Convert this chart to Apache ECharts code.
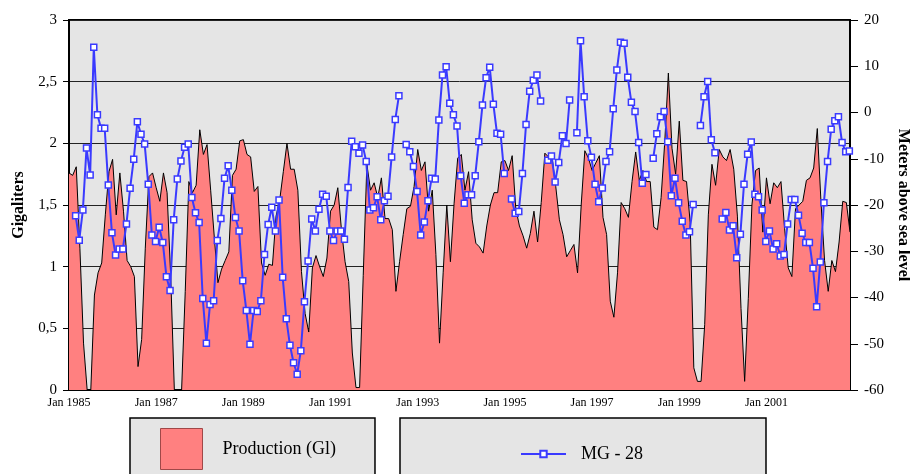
<!DOCTYPE html>
<html>
<head>
<meta charset="utf-8">
<script src="https://cdn.jsdelivr.net/npm/echarts@6/dist/echarts.min.js"></script>
<style>html,body{margin:0;padding:0;background:#fff;}#c{width:910px;height:474px;}</style>
</head>
<body>
<div id="c"></div>
<script>
// Monthly production (Gigaliters), Jan 1985 .. Dec 2002 (month index 0..215)
const startYear = 1985;
const production = [
1.76,1.74,1.81,1.15,0.38,0,0,0.77,0.95,1.03,1.42,1.77,
1.87,1.42,1.76,1.45,1.05,1.0,0.92,0.19,0.41,1.15,1.73,1.76,
1.64,1.53,1.76,1.6,0.92,0,0,0,0.8,1.69,1.6,1.66,
2.11,1.91,1.99,1.62,1.24,0.87,0.98,1.05,1.12,1.74,1.79,2.02,
2.03,1.91,1.89,1.61,1.65,1.03,0.93,1.02,1.01,1.41,1.54,1.77,
2.0,1.79,1.79,1.62,0.96,0.62,0.47,0.99,1.09,1.0,0.92,1.07,
1.45,1.5,1.64,1.3,1.04,0.88,0.3,0.02,0.02,0.93,1.83,1.62,
1.68,1.56,1.72,1.39,1.39,1.3,0.8,1.04,1.26,1.47,1.49,1.65,
1.95,1.78,1.85,1.45,1.62,1.1,0.38,0.95,1.5,1.04,1.51,1.88,
1.91,1.62,1.77,1.38,1.19,1.16,1.11,1.33,1.5,1.6,1.6,1.85,
1.86,1.78,1.9,1.47,1.33,1.25,1.15,1.27,1.45,1.2,1.52,1.92,
1.89,1.88,1.65,1.38,1.26,1.08,1.13,1.18,0.95,1.5,1.94,1.88,
1.78,1.84,1.9,1.4,1.26,0.72,0.59,0.95,1.52,1.47,1.4,1.69,
1.93,1.7,1.78,1.69,1.69,1.32,1.3,1.56,2.01,2.57,1.96,1.75,
2.18,1.7,1.69,1.36,0.18,0.07,0.07,0.53,1.42,1.83,1.66,1.95,
1.89,1.86,1.95,1.79,1.41,0.66,0.07,0.74,1.5,1.78,1.8,1.28,
1.72,1.51,1.68,1.64,1.69,1.31,0.99,0.92,1.47,1.5,1.53,1.7,
1.72,1.8,2.12,1.53,1.05,0.8,1.05,0.96,1.2,1.53,1.52,1.28
];
// MG-28 level (meters above sea level), one reading per month, taken late in the month
const mgDayFraction = 0.82;
const mg28 = [
null,-22.3,-27.6,-21.1,-7.7,-13.5,14.1,-0.5,-3.4,-3.4,-15.7,-26.0,
-30.8,-29.5,-29.5,-24.1,-16.4,-10.1,-2.0,-4.7,-6.8,-15.5,-26.5,-27.9,
-24.8,-28.1,-35.5,-38.5,-23.2,-14.4,-10.5,-7.5,-6.8,-18.4,-21.7,-23.8,
-40.2,-49.9,-41.5,-40.7,-27.7,-22.9,-14.2,-11.5,-16.8,-22.7,-25.6,-36.4,
-42.8,-50.1,-42.8,-43.0,-40.7,-30.7,-24.2,-20.5,-25.6,-18.9,-35.6,-44.6,
-50.3,-54.1,-56.6,-51.5,-40.9,-32.1,-23.0,-25.6,-20.9,-17.7,-18.1,-25.6,
-27.7,-25.6,-25.6,-27.4,-16.2,-6.2,-7.4,-8.8,-7.0,-10.6,-21.1,-20.6,
-18.2,-23.2,-19.1,-18.1,-9.6,-1.5,3.6,null,-6.9,-8.5,-11.7,-17.1,
-26.5,-23.7,-19.1,-14.2,-14.4,-1.6,8.1,9.9,2.0,-0.5,-2.9,-13.7,
-19.6,-17.8,-17.8,-13.7,-6.3,1.6,7.5,9.8,1.8,-4.5,-4.7,-13.2,
null,-18.7,-21.8,-21.4,-13.2,-2.6,4.6,7.0,8.1,2.5,null,-10.3,
-9.4,-15.0,-10.8,-5.0,-6.7,2.7,null,-4.4,15.5,3.4,-6.1,-9.7,
-15.5,-19.3,-16.3,-10.6,-8.5,0.8,9.2,15.2,15.0,7.6,2.2,0.2,
-6.5,-15.3,-13.4,null,-9.9,-4.6,-0.9,0.2,-6.3,-18.0,-14.2,-19.5,
-23.5,-26.5,-25.8,-19.9,null,-2.8,3.4,6.7,-5.9,-8.7,null,-23.0,
-21.6,-25.4,-24.5,-31.4,-26.3,-15.5,-9.0,-6.4,-17.7,-18.2,-21.1,-27.9,
-25.6,-29.5,-28.4,-31.0,-30.7,-24.1,-18.8,-18.8,-22.2,-26.1,-28.1,-28.1,
-33.7,-42.0,-32.3,-19.5,-10.6,-3.6,-1.8,-0.9,-6.5,-8.5,-8.3
];
const leftTicks = [0, 3, 0.5];     // min, max, interval
const rightTicks = [-60, 20, 10];  // min, max, interval

const prodData = production.map((v, i) => [i, v]);
const mgData = mg28.map((v, i) => [i + mgDayFraction, v]);

const serif = '"Liberation Serif", "DejaVu Serif", serif';
const chart = echarts.init(document.getElementById('c'), null, {renderer: 'canvas'});
chart.setOption({
  animation: false,
  backgroundColor: '#ffffff',
  textStyle: {fontFamily: serif},
  grid: {left: 69, right: 60, top: 20, bottom: 84, show: true, outerBoundsMode: 'none', containLabel: false,
         backgroundColor: '#e5e5e5', borderColor: '#000', borderWidth: 2},
  legend: [
    {data: [{name: 'Production (Gl)', icon: 'rect'}], left: 130, top: 418, orient: 'horizontal',
     backgroundColor: '#e5e5e5', borderColor: '#000', borderWidth: 1.5,
     padding: [10, 39, 20, 30], itemWidth: 42, itemHeight: 41,
     itemStyle: {color: '#ff8080', borderColor: '#a04848', borderWidth: 1},
     textStyle: {fontFamily: serif, fontSize: 18, color: '#000', padding: [0, 0, 0, 15]},
     selectedMode: false},
    {data: ['MG - 28'], left: 400, top: 418, orient: 'horizontal',
     backgroundColor: '#e5e5e5', borderColor: '#000', borderWidth: 1.5,
     padding: [27, 123, 34, 120], itemWidth: 45, itemHeight: 8,
     textStyle: {fontFamily: serif, fontSize: 18, color: '#000', padding: [0, 0, 0, 10]},
     selectedMode: false}
  ],
  xAxis: {
    type: 'value', min: 0, max: production.length - 1, interval: 12,
    axisLine: {show: true, lineStyle: {color: '#000', width: 2}},
    axisTick: {show: true, inside: true, length: 6, lineStyle: {color: '#000', width: 1}},
    splitLine: {show: false},
    axisLabel: {color: '#000', fontSize: 12, fontFamily: serif, margin: 7,
      formatter: v => (v % 24 === 0 ? 'Jan ' + (startYear + v / 12) : '')}
  },
  yAxis: [
    {type: 'value', min: leftTicks[0], max: leftTicks[1], interval: leftTicks[2], position: 'left',
     name: 'Gigaliters', nameLocation: 'middle', nameRotate: 90, nameGap: 41,
     nameTextStyle: {fontFamily: serif, fontSize: 16, fontWeight: 'bold', color: '#000'},
     axisLine: {show: true, lineStyle: {color: '#000', width: 2}},
     axisTick: {show: true, inside: false, length: 6, lineStyle: {color: '#000'}},
     splitLine: {show: true, lineStyle: {color: '#222', width: 1}},
     axisLabel: {color: '#000', fontSize: 15, fontFamily: serif, margin: 12,
       formatter: v => String(v).replace('.', ',')}},
    {type: 'value', min: rightTicks[0], max: rightTicks[1], interval: rightTicks[2], position: 'right',
     name: 'Meters above sea level', nameLocation: 'middle', nameRotate: -90, nameGap: 42,
     nameTextStyle: {fontFamily: serif, fontSize: 16, fontWeight: 'bold', color: '#000'},
     axisLine: {show: true, lineStyle: {color: '#000', width: 2}},
     axisTick: {show: true, inside: false, length: 8, lineStyle: {color: '#000'}},
     splitLine: {show: false},
     axisLabel: {color: '#000', fontSize: 15, fontFamily: serif, margin: 14}}
  ],
  series: [
    {name: 'Production (Gl)', type: 'line', yAxisIndex: 0, data: prodData,
     showSymbol: false, symbol: 'none', color: '#ff8080',
     lineStyle: {color: '#000', width: 1},
     areaStyle: {color: '#ff8080', opacity: 1}, z: 2},
    {name: 'MG - 28', type: 'line', yAxisIndex: 1, data: mgData, connectNulls: false,
     symbol: 'rect', symbolSize: 6, showSymbol: true, color: '#3a3aff',
     lineStyle: {color: '#3a3aff', width: 2},
     itemStyle: {color: '#ffffff', borderColor: '#3a3aff', borderWidth: 1.5}, z: 3}
  ]
});
</script>
</body>
</html>
